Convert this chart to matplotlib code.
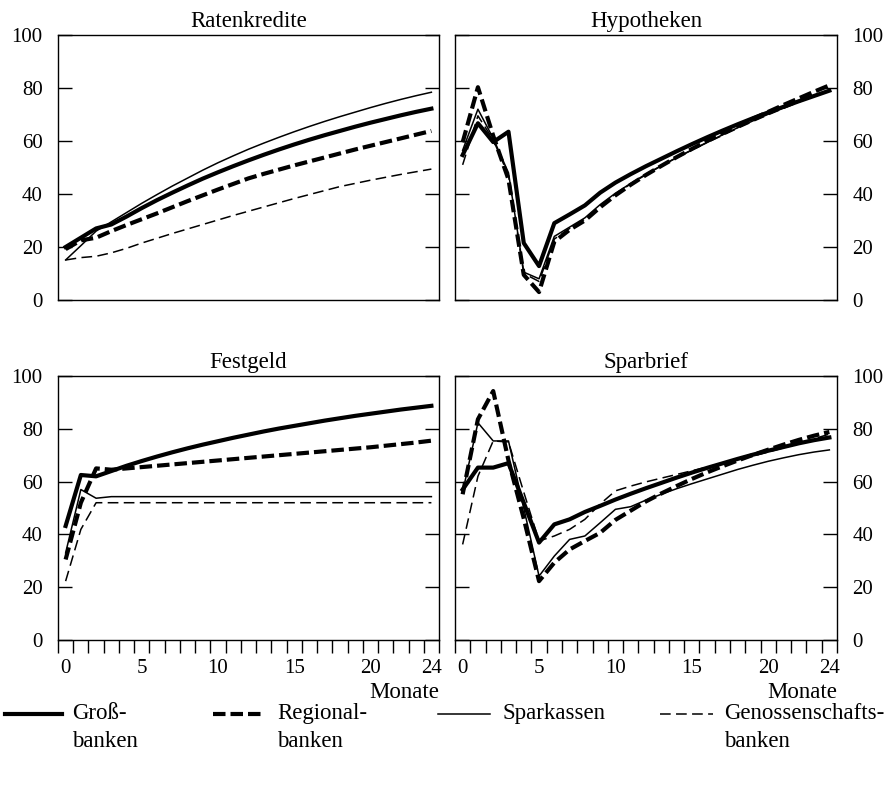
import matplotlib
matplotlib.use("Agg")
import matplotlib.pyplot as plt
from matplotlib.lines import Line2D

# data: months 0..24, four bank groups, four products
monate = list(range(25))

raten_gross = [20.0, 23.5, 27.0, 28.5, 31.5, 34.7, 37.7, 40.5, 43.2, 45.8, 48.2, 50.5, 52.7,
               54.8, 56.8, 58.7, 60.5, 62.2, 63.8, 65.4, 66.9, 68.3, 69.7, 71.0, 72.2]
raten_regional = [19.2, 22.5, 23.5, 26.0, 28.3, 30.5, 32.7, 35.0, 37.3, 39.5, 41.7, 43.8, 45.9,
                  47.6, 49.2, 50.8, 52.3, 53.8, 55.3, 56.8, 58.2, 59.6, 61.0, 62.4, 63.8]
raten_spark = [15.1, 20.5, 26.0, 29.5, 33.0, 36.5, 39.8, 43.0, 46.0, 49.0, 51.8, 54.4, 56.9,
               59.2, 61.4, 63.5, 65.5, 67.4, 69.2, 70.9, 72.6, 74.2, 75.7, 77.1, 78.4]
raten_genoss = [15.1, 16.0, 16.5, 17.8, 19.5, 21.5, 23.3, 25.1, 26.8, 28.5, 30.2, 31.9, 33.5,
                35.1, 36.7, 38.3, 39.8, 41.3, 42.8, 44.0, 45.2, 46.3, 47.4, 48.4, 49.4]

hypo_gross = [54.7, 66.7, 59.6, 63.5, 21.5, 12.8, 29.0, 32.3, 35.7, 40.5, 44.3, 47.5, 50.5,
              53.3, 56.1, 58.8, 61.4, 63.9, 66.3, 68.6, 70.8, 72.9, 75.0, 77.0, 79.0]
hypo_regional = [59.5, 80.3, 62.0, 45.5, 9.5, 3.0, 22.0, 26.5, 30.0, 35.0, 39.5, 43.5, 47.2,
                 50.6, 53.9, 57.0, 60.0, 62.9, 65.7, 68.4, 71.0, 73.6, 76.1, 78.6, 81.0]
hypo_spark = [56.5, 72.0, 61.0, 48.0, 10.5, 8.0, 24.0, 27.5, 31.0, 36.0, 40.3, 44.0, 47.5,
              50.7, 53.7, 56.6, 59.5, 62.3, 65.0, 67.6, 70.1, 72.5, 74.8, 77.0, 79.0]
hypo_genoss = [51.0, 69.5, 60.5, 47.0, 10.0, 7.0, 23.0, 27.0, 30.5, 35.5, 40.0, 43.8, 47.3,
               50.6, 53.7, 56.6, 59.4, 62.1, 64.8, 67.4, 69.9, 72.3, 74.7, 77.0, 79.2]

fest_gross = [43.2, 62.5, 62.0, 64.0, 66.0, 67.8, 69.5, 71.1, 72.6, 74.0, 75.3, 76.6, 77.8,
              79.0, 80.1, 81.1, 82.1, 83.1, 84.0, 84.9, 85.7, 86.5, 87.3, 88.0, 88.7]
fest_regional = [30.5, 52.0, 65.0, 64.5, 65.0, 65.5, 66.0, 66.5, 67.0, 67.5, 68.0, 68.5, 69.0,
                 69.5, 70.0, 70.5, 71.0, 71.5, 72.0, 72.5, 73.0, 73.6, 74.2, 74.8, 75.5]
fest_spark = [33.0, 57.0, 53.7, 54.3, 54.3, 54.3, 54.3, 54.3, 54.3, 54.3, 54.3, 54.3, 54.3,
              54.3, 54.3, 54.3, 54.3, 54.3, 54.3, 54.3, 54.3, 54.3, 54.3, 54.3, 54.3]
fest_genoss = [22.3, 41.9, 52.0, 52.0, 52.0, 52.0, 52.0, 52.0, 52.0, 52.0, 52.0, 52.0, 52.0,
               52.0, 52.0, 52.0, 52.0, 52.0, 52.0, 52.0, 52.0, 52.0, 52.0, 52.0, 52.0]

spar_gross = [57.0, 65.3, 65.3, 67.0, 52.0, 36.9, 43.8, 45.7, 48.5, 50.8, 53.2, 55.4, 57.5,
              59.5, 61.5, 63.4, 65.2, 66.9, 68.6, 70.2, 71.7, 73.1, 74.5, 75.7, 76.7]
spar_regional = [55.2, 83.6, 94.3, 68.0, 46.0, 22.3, 29.3, 34.3, 37.5, 40.6, 45.5, 49.0, 52.5,
                 55.5, 58.3, 61.0, 63.5, 65.8, 68.0, 70.1, 72.1, 74.0, 75.8, 77.4, 78.8]
spar_spark = [56.0, 82.3, 75.4, 75.4, 50.0, 24.2, 31.8, 38.1, 39.4, 44.4, 49.5, 50.5, 53.0,
              55.2, 57.3, 59.2, 61.0, 62.8, 64.6, 66.2, 67.7, 69.0, 70.2, 71.2, 72.0]
spar_genoss = [36.2, 62.0, 75.4, 75.0, 56.0, 37.5, 39.4, 41.9, 45.7, 51.5, 56.5, 58.3, 59.9,
               61.3, 62.7, 64.1, 65.5, 66.9, 68.3, 69.7, 71.2, 72.8, 74.5, 76.2, 78.0]

titel = ["Ratenkredite", "Hypotheken", "Festgeld", "Sparbrief"]
gruppen = ["Groß-\nbanken", "Regional-\nbanken", "Sparkassen", "Genossenschafts-\nbanken"]
daten = [
    [raten_gross, raten_regional, raten_spark, raten_genoss],
    [hypo_gross, hypo_regional, hypo_spark, hypo_genoss],
    [fest_gross, fest_regional, fest_spark, fest_genoss],
    [spar_gross, spar_regional, spar_spark, spar_genoss],
]
x_labels = [0, 5, 10, 15, 20, 24]
y_ticks = [0, 20, 40, 60, 80, 100]

plt.rcParams['font.family'] = ['Liberation Serif', 'DejaVu Serif']
plt.rcParams['font.size'] = 15

# line styles for the four groups
stile = [
    dict(color='black', lw=3.0, ls='-'),
    dict(color='black', lw=3.0, ls=(0, (3.0, 1.2))),
    dict(color='black', lw=1.1, ls='-'),
    dict(color='black', lw=1.1, ls=(0, (7, 3.5))),
]

W, H = 889, 796
fig = plt.figure(figsize=(W / 100, H / 100), dpi=100)

# axes boxes in pixels (left, top, right, bottom)
boxen = [(58, 35, 439, 300), (455, 35, 837, 300),
         (58, 376, 439, 640), (455, 376, 837, 640)]

for i, (l, t, r, b) in enumerate(boxen):
    ax = fig.add_axes([l / W, 1 - b / H, (r - l) / W, (b - t) / H])
    for s, werte in enumerate(daten[i]):
        ax.plot(monate, werte, **stile[s])
    ax.set_xlim(-0.5, 24.5)
    ax.set_ylim(0, 100)
    ax.set_title(titel[i], pad=6, fontsize=16.5)
    for sp in ax.spines.values():
        sp.set_linewidth(1.0)

    ax.set_yticks(y_ticks)
    ax.tick_params(axis='y', direction='in', length=10, width=1.0, left=True, right=True, pad=11)
    if i % 2 == 0:
        ax.tick_params(axis='y', labelleft=True, labelright=False)
    else:
        ax.tick_params(axis='y', labelleft=False, labelright=True)

    if i >= 2:
        ax.set_xticks(x_labels)
        ax.set_xticks([m - 0.5 for m in range(26)], minor=True)
        ax.tick_params(axis='x', which='major', length=0, pad=14)
        ax.tick_params(axis='x', which='minor', direction='out', length=9.5, width=1.0)
        ax.text(1.0, -0.197, "Monate", transform=ax.transAxes, ha='right', va='center',
                fontsize=16.5)
    else:
        ax.set_xticks([])

# legend drawn below the panels
hand_x = [(5, 62), (213, 265), (438, 490), (660, 713)]
text_x = [72, 277, 503, 724]
leg_y = 714
for s in range(4):
    x0, x1 = hand_x[s]
    st = stile[s]
    fig.add_artist(Line2D([x0 / W, x1 / W], [1 - leg_y / H, 1 - leg_y / H],
                          transform=fig.transFigure, color=st['color'],
                          lw=st['lw'], ls=st['ls']))
    fig.text(text_x[s] / W, 1 - (leg_y - 11) / H, gruppen[s], ha='left', va='top',
             linespacing=1.45, fontsize=16.5)

fig.savefig("out.png", dpi=100)
